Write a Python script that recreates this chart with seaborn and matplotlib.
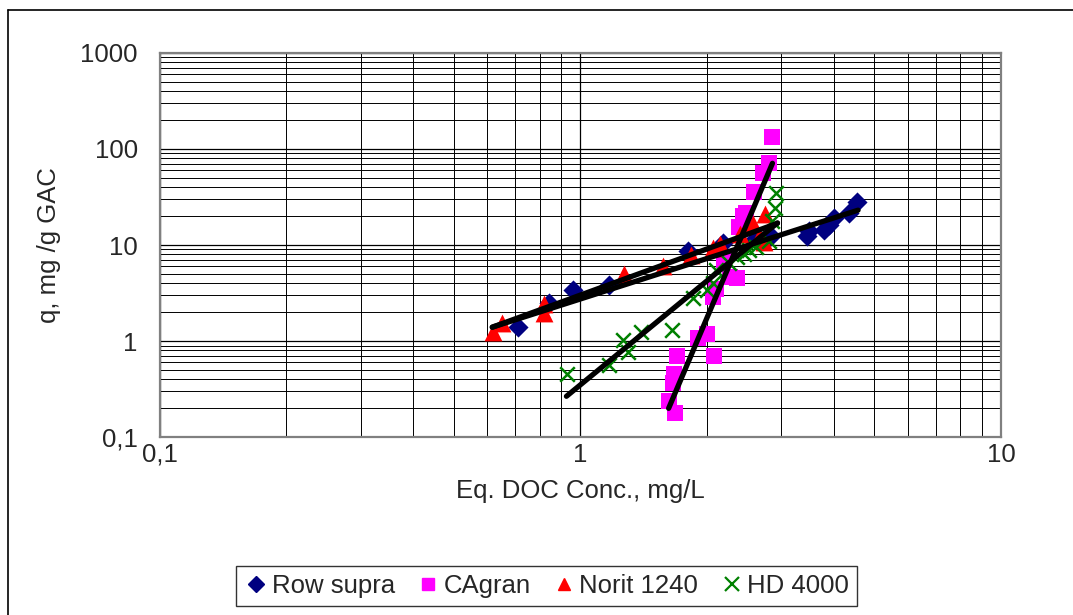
import numpy as np
import pandas as pd
import seaborn as sns
import matplotlib.pyplot as plt
from matplotlib.ticker import FixedLocator, FixedFormatter, LogLocator, NullFormatter
from matplotlib.lines import Line2D

# isotherm data (x = eq. DOC conc. mg/L, y = q mg/g GAC)
row_x = [0.71, 0.84, 0.96, 1.17, 1.80, 2.18, 2.60, 2.83, 3.45, 3.50, 3.80, 3.90, 4.00, 4.35, 4.55]
row_y = [1.4, 2.5, 3.4, 3.8, 8.7, 10.5, 11.5, 12.3, 12.3, 14.0, 14.5, 16.0, 19.0, 21.5, 28.0]

cag_x = [1.62, 1.68, 1.66, 1.67, 1.70, 1.90, 2.00, 2.08, 2.07, 2.10, 2.19, 2.27,
         2.36, 2.38, 2.43, 2.47, 2.58, 2.71, 2.80, 2.85]
cag_y = [0.24, 0.18, 0.37, 0.46, 0.70, 1.07, 1.18, 0.70, 2.9, 3.5, 7.0, 4.6,
         4.5, 15.4, 20.0, 21.6, 35.5, 56.0, 71.0, 133.0]

nor_x = [0.62, 0.65, 0.82, 0.82, 1.27, 1.57, 1.83, 2.06, 2.15, 2.40, 2.57, 2.65, 2.73, 2.75]
nor_y = [1.25, 1.55, 2.45, 1.95, 5.0, 6.0, 7.8, 9.3, 10.3, 13.0, 16.5, 12.0, 10.8, 21.0]

hd_x = [0.93, 1.17, 1.26, 1.30, 1.39, 1.65, 1.85, 2.00, 2.06, 2.10, 2.25, 2.35,
        2.45, 2.52, 2.62, 2.80, 2.85, 2.90, 2.92]
hd_y = [0.46, 0.56, 1.02, 0.77, 1.24, 1.30, 2.8, 3.4, 4.0, 5.5, 6.5, 7.5,
        8.0, 8.9, 9.5, 11.0, 18.0, 24.5, 35.0]

series = ['Row supra', 'CAgran', 'Norit 1240', 'HD 4000']
colors = ['#000080', '#FF00FF', '#FF0000', '#008000']
markers = ['D', 's', '^', 'x']

# power trendlines q = a * C^b and the range they cover
fit_a = [2.75, 0.00137, 3.02, 0.352]
fit_b = [1.40, 10.33, 1.595, 3.596]
fit_lo = [0.617, 1.62, 0.617, 0.926]
fit_hi = [4.57, 2.86, 2.94, 2.94]

df = pd.concat([
    pd.DataFrame({'x': row_x, 'y': row_y, 'series': series[0]}),
    pd.DataFrame({'x': cag_x, 'y': cag_y, 'series': series[1]}),
    pd.DataFrame({'x': nor_x, 'y': nor_y, 'series': series[2]}),
    pd.DataFrame({'x': hd_x, 'y': hd_y, 'series': series[3]}),
])

sns.set_theme(style='white')
plt.rcParams['font.family'] = ['Liberation Sans', 'DejaVu Sans']
FS = 18.5

fig = plt.figure(figsize=(10.73, 6.15), dpi=100)
ax = fig.add_axes([0.149, 0.289, 0.784, 0.625])

# grid first so markers sit on top
ax.set_xscale('log')
ax.set_yscale('log')
ax.set_xlim(0.1, 10)
ax.set_ylim(0.1, 1000)
ax.grid(True, which='major', color='black', lw=0.9)
ax.grid(True, which='minor', color='black', lw=0.7)
ax.set_axisbelow(True)

palette = dict(zip(series, colors))
sizes = {'D': 105, 's': 140, '^': 165}
for name, m in zip(series, markers):
    sub = df[df['series'] == name]
    if m == 'x':
        sns.scatterplot(data=sub, x='x', y='y', color=palette[name], marker='x',
                        s=110, linewidth=1.8, ax=ax, legend=False, zorder=3)
    else:
        sns.scatterplot(data=sub, x='x', y='y', color=palette[name], marker=m,
                        s=sizes[m], edgecolor=palette[name],
                        linewidth=0, ax=ax, legend=False, zorder=3)

# trendlines
for a, b, lo, hi in zip(fit_a, fit_b, fit_lo, fit_hi):
    xs = np.geomspace(lo, hi, 50)
    line = pd.DataFrame({'x': xs, 'y': a * xs ** b})
    sns.lineplot(data=line, x='x', y='y', color='black', lw=3.8, ax=ax,
                 legend=False, zorder=4, solid_capstyle='round')

ax.xaxis.set_major_locator(FixedLocator([0.1, 1, 10]))
ax.xaxis.set_major_formatter(FixedFormatter(['0,1', '1', '10']))
ax.xaxis.set_minor_locator(LogLocator(base=10, subs=np.arange(2, 10)))
ax.xaxis.set_minor_formatter(NullFormatter())
ax.yaxis.set_major_locator(FixedLocator([0.1, 1, 10, 100, 1000]))
ax.yaxis.set_major_formatter(FixedFormatter(['0,1', '1', '10', '100', '1000']))
ax.yaxis.set_minor_locator(LogLocator(base=10, subs=np.arange(2, 10)))
ax.yaxis.set_minor_formatter(NullFormatter())

ax.tick_params(axis='both', which='major', labelsize=FS, length=0)
ax.tick_params(axis='x', which='major', pad=4)
ax.tick_params(axis='y', which='major', pad=16)
ax.tick_params(which='minor', length=0)

for sp in ax.spines.values():
    sp.set_color('#808080')
    sp.set_linewidth(1.6)

ax.set_xlabel('Eq. DOC Conc., mg/L', fontsize=FS, labelpad=9)
ax.set_ylabel('q, mg /g GAC', fontsize=FS, labelpad=14)

handles = []
for name, c, m in zip(series, colors, markers):
    if m == 'x':
        handles.append(Line2D([], [], ls='', marker='x', color=c, markersize=10, mew=1.6))
    else:
        handles.append(Line2D([], [], ls='', marker=m, color=c, markersize=9 if m != 'D' else 8))
leg = fig.legend(handles, series, loc='center', bbox_to_anchor=(0.509, 0.047), ncol=4,
                 fontsize=FS, frameon=True, fancybox=False, edgecolor='black',
                 handletextpad=0.1, columnspacing=0.8, borderpad=0.3, handlelength=1.0)
leg.get_frame().set_linewidth(1.0)

# outer chart border
fig.add_artist(Line2D([0.0075, 0.0075], [0, 1 - 10 / 615], color='black', lw=1.2,
                      transform=fig.transFigure))
fig.add_artist(Line2D([0.0075, 1], [1 - 10 / 615, 1 - 10 / 615], color='black', lw=1.2,
                      transform=fig.transFigure))

fig.savefig('out.png', dpi=100)
